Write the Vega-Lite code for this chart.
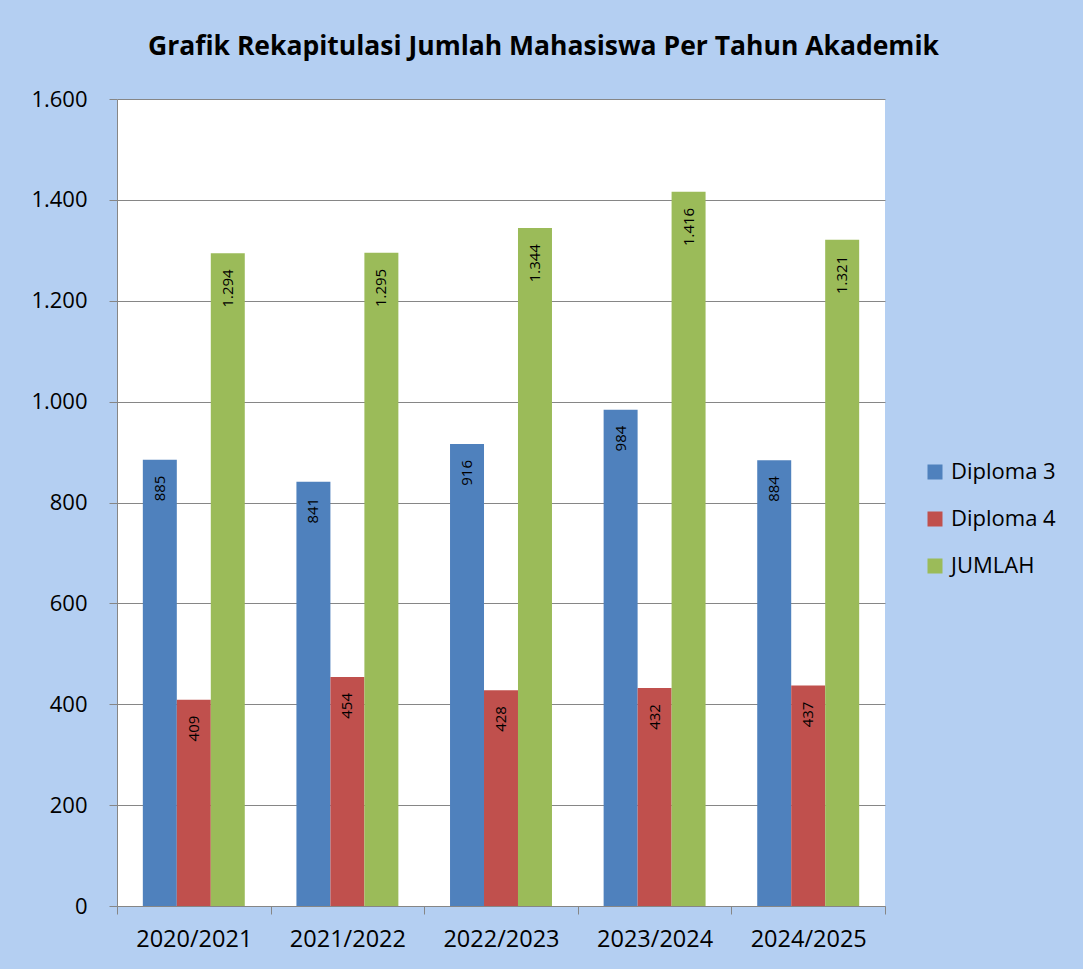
{
  "$schema": "https://vega.github.io/schema/vega-lite/v6.json",
  "width": 768,
  "height": 807,
  "padding": {"left": 30, "top": 33, "right": 27, "bottom": 20},
  "background": "#b4cff2",
  "config": {
    "locale": {"number": {"decimal": ",", "thousands": ".", "grouping": [3], "currency": ["", ""]}},
    "view": {"fill": "white", "stroke": null},
    "font": "Open Sans"
  },
  "title": {
    "text": "Grafik Rekapitulasi Jumlah Mahasiswa Per Tahun Akademik",
    "fontSize": 26.5,
    "fontWeight": "bold",
    "font": "Open Sans",
    "color": "black",
    "anchor": "middle",
    "frame": "bounds",
    "offset": 28
  },
  "data": {
    "values": [
      {"tahun": "2020/2021", "jenis": "Diploma 3", "jumlah": 885},
      {"tahun": "2020/2021", "jenis": "Diploma 4", "jumlah": 409},
      {"tahun": "2020/2021", "jenis": "JUMLAH", "jumlah": 1294},
      {"tahun": "2021/2022", "jenis": "Diploma 3", "jumlah": 841},
      {"tahun": "2021/2022", "jenis": "Diploma 4", "jumlah": 454},
      {"tahun": "2021/2022", "jenis": "JUMLAH", "jumlah": 1295},
      {"tahun": "2022/2023", "jenis": "Diploma 3", "jumlah": 916},
      {"tahun": "2022/2023", "jenis": "Diploma 4", "jumlah": 428},
      {"tahun": "2022/2023", "jenis": "JUMLAH", "jumlah": 1344},
      {"tahun": "2023/2024", "jenis": "Diploma 3", "jumlah": 984},
      {"tahun": "2023/2024", "jenis": "Diploma 4", "jumlah": 432},
      {"tahun": "2023/2024", "jenis": "JUMLAH", "jumlah": 1416},
      {"tahun": "2024/2025", "jenis": "Diploma 3", "jumlah": 884},
      {"tahun": "2024/2025", "jenis": "Diploma 4", "jumlah": 437},
      {"tahun": "2024/2025", "jenis": "JUMLAH", "jumlah": 1321}
    ]
  },
  "encoding": {
    "x": {
      "field": "tahun",
      "type": "nominal",
      "scale": {"paddingInner": 0, "paddingOuter": 0},
      "axis": {
        "title": null,
        "labelAngle": 0,
        "labelFontSize": 23.5,
        "labelColor": "black",
        "labelPadding": 13,
        "tickBand": "extent",
        "tickSize": 8,
        "tickColor": "#868686",
        "domainColor": "#868686",
        "grid": false
      }
    },
    "xOffset": {
      "field": "jenis",
      "type": "nominal",
      "scale": {"paddingOuter": 0.76, "paddingInner": 0}
    },
    "y": {
      "field": "jumlah",
      "type": "quantitative",
      "scale": {"domain": [0, 1600], "nice": false},
      "axis": {
        "title": null,
        "values": [0, 200, 400, 600, 800, 1000, 1200, 1400, 1600],
        "format": ",d",
        "labelFontSize": 22,
        "labelColor": "black",
        "labelPadding": 22,
        "tickSize": 8,
        "tickColor": "#868686",
        "domainColor": "#868686",
        "grid": true,
        "gridColor": "#868686",
        "gridOpacity": 1
      }
    }
  },
  "layer": [
    {
      "mark": {"type": "bar"},
      "encoding": {
        "color": {
          "field": "jenis",
          "type": "nominal",
          "scale": {"domain": ["Diploma 3", "Diploma 4", "JUMLAH"], "range": ["#4f81bd", "#c0504d", "#9bbb59"]},
          "legend": {
            "orient": "none",
            "legendX": 807,
            "legendY": 362,
            "title": null,
            "symbolType": "square",
            "symbolSize": 225,
            "symbolStrokeWidth": 0,
            "labelFontSize": 22,
            "labelFont": "Open Sans",
            "labelColor": "black",
            "labelOffset": 5,
            "rowPadding": 25
          }
        }
      }
    },
    {
      "mark": {"type": "text", "angle": 270, "align": "right", "baseline": "middle", "dx": -16, "fontSize": 15, "color": "black"},
      "encoding": {
        "text": {"field": "jumlah", "type": "quantitative", "format": ",d"}
      }
    }
  ]
}
